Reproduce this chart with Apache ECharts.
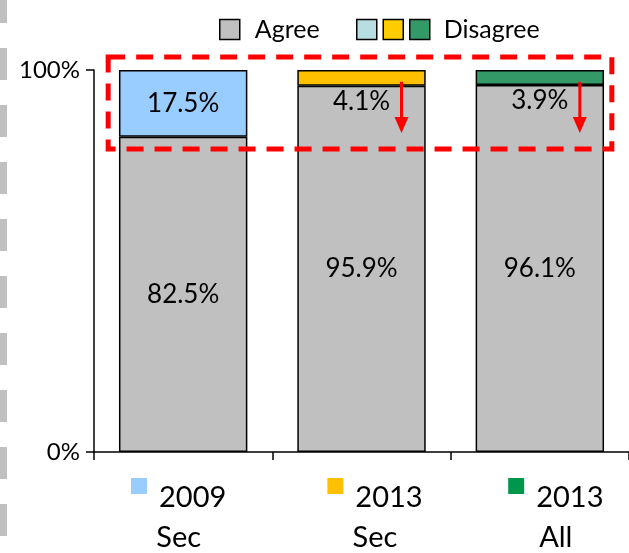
<!DOCTYPE html>
<html>
<head>
<meta charset="utf-8">
<script src="https://cdn.jsdelivr.net/npm/echarts@6/dist/echarts.min.js"></script>
<style>
  html, body { margin: 0; padding: 0; background: #fff; }
  #main { width: 629px; height: 553px; }
</style>
</head>
<body>
<div id="main"></div>
<script>
// chart data
var categories = ['2009\nSec', '2013\nSec', '2013\nAll'];
var agree = [82.5, 95.9, 96.1];
var disagree = [17.5, 4.1, 3.9];
var disagreeColors = ['#99ccff', '#ffc000', '#339966'];
var labelSquareColors = ['#99ccff', '#ffc000', '#00964b'];
var legendSquareColors = ['#b7dee0', '#ffcc00', '#339966'];
var yTicks = [0, 100];

var FONT = 'Lato';
var chartDom = document.getElementById('main');
var myChart = echarts.init(chartDom);

var pct = function (p) { return p.value.toFixed(1) + '%'; };
var disagreeNames = ['d0', 'd1', 'Disagree'];
var labelPads = [[0, 9, 0, 0], [0, 0, 0, 27], [0, 0, 0, 32]];
var series = [{
  name: 'Agree',
  type: 'bar',
  stack: 'all',
  barCategoryGap: '28%',
  itemStyle: { color: '#c0c0c0', borderColor: '#000', borderWidth: 1.5 },
  label: { show: true, position: 'inside', color: '#000', fontFamily: FONT, fontSize: 26, formatter: pct },
  data: agree
}];
disagree.forEach(function (v, i) {
  var data = categories.map(function (c, j) {
    if (j !== i) return '-';
    return {
      value: v,
      label: i === 0 ? { position: 'inside' } : { position: 'bottom', distance: 3 }
    };
  });
  series.push({
    name: disagreeNames[i],
    type: 'bar',
    stack: 'all',
    barCategoryGap: '28%',
    itemStyle: { color: disagreeColors[i], borderColor: '#000', borderWidth: 1.5 },
    label: { show: true, color: '#000', fontFamily: FONT, fontSize: 26, formatter: pct },
    data: data
  });
});

var option = {
  animation: false,
  textStyle: { fontFamily: FONT },
  legend: [{
    left: 214, top: 12,
    selectedMode: false,
    icon: 'rect',
    itemWidth: 20, itemHeight: 20,
    data: [{ name: 'Agree', itemStyle: { color: '#c0c0c0', borderColor: '#000', borderWidth: 1.5 } }],
    textStyle: { fontSize: 25, color: '#000', padding: [0, 0, 0, 10] }
  }, {
    left: 351, top: 12,
    selectedMode: false,
    icon: 'rect',
    itemWidth: 20, itemHeight: 20, itemGap: 5,
    data: disagreeNames.map(function (n, i) {
      return { name: n, itemStyle: { color: legendSquareColors[i], borderColor: '#000', borderWidth: 1.5 } };
    }),
    formatter: function (n) { return n === 'Disagree' ? n : ''; },
    textStyle: { fontSize: 25, color: '#000', padding: [0, 0, 0, 9] }
  }],
  grid: { left: 94, right: 0, top: 70, bottom: 101 },
  xAxis: {
    type: 'category',
    data: categories.map(function (c, i) {
      return { value: c, textStyle: { padding: labelPads[i] } };
    }),
    axisLine: { lineStyle: { color: '#000', width: 1.5 } },
    axisTick: { show: true, length: 8, lineStyle: { color: '#000', width: 1.5 } },
    axisLabel: {
      margin: 26,
      interval: 0,
      formatter: function (val, idx) {
        var parts = val.split('\n');
        return '{s' + idx + '| }{g| }{t|' + parts[0] + '}\n{t|' + parts[1] + '}';
      },
      rich: {
        t: { fontSize: 29, color: '#000', fontFamily: FONT, lineHeight: 40 },
        g: { width: 12 },
        s0: { width: 16, height: 16, backgroundColor: labelSquareColors[0], verticalAlign: 'top' },
        s1: { width: 16, height: 16, backgroundColor: labelSquareColors[1], verticalAlign: 'top' },
        s2: { width: 16, height: 16, backgroundColor: labelSquareColors[2], verticalAlign: 'top' }
      }
    }
  },
  yAxis: {
    type: 'value',
    min: yTicks[0], max: yTicks[1], interval: 100,
    splitLine: { show: false },
    axisLine: { show: true, lineStyle: { color: '#000', width: 1.5 } },
    axisTick: { show: true, length: 8, lineStyle: { color: '#000', width: 1.5 } },
    axisLabel: { formatter: '{value}%', fontSize: 24, color: '#000', fontFamily: FONT, margin: 14 }
  },
  series: series
};

option && myChart.setOption(option);

// annotations: red dashed box, arrows, grey dashed left rule
function px(cat, val) { return myChart.convertToPixel({ gridIndex: 0 }, [cat, val]); }
var tl = px(0, 103.4), br = px(2, 79.3);
var graphics = [{
  type: 'rect',
  shape: { x: tl[0] - 75, y: tl[1], width: (br[0] + 72) - (tl[0] - 75), height: br[1] - tl[1] },
  style: { fill: 'none', stroke: '#ff0000', lineWidth: 5, lineDash: [17, 11] },
  z: 10
}, {
  type: 'line',
  shape: { x1: 3.5, y1: -9, x2: 3.5, y2: 553 },
  style: { stroke: '#c0c0c0', lineWidth: 7, lineDash: [32, 25] },
  z: 10
}];
[1, 2].forEach(function (i) {
  var top = px(i, 96.9), tip = px(i, 83.5);
  var x = top[0] + 40;
  graphics.push({
    type: 'line',
    shape: { x1: x, y1: top[1], x2: x, y2: tip[1] - 12 },
    style: { stroke: '#ff0000', lineWidth: 3 },
    z: 10
  });
  graphics.push({
    type: 'polygon',
    shape: { points: [[x - 7, tip[1] - 16], [x + 7, tip[1] - 16], [x, tip[1]]] },
    style: { fill: '#ff0000' },
    z: 10
  });
});
myChart.setOption({ graphic: graphics });
</script>
</body>
</html>
